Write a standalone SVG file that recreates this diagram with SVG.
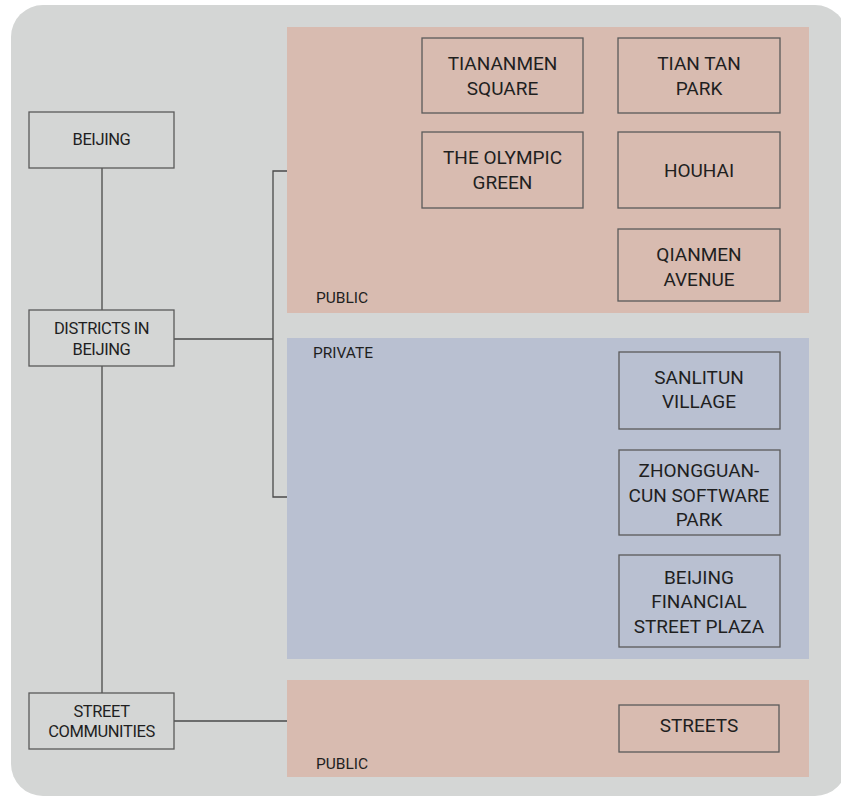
<svg xmlns="http://www.w3.org/2000/svg" width="841" height="797" viewBox="0 0 841 797">
<style>
  .bg { fill: #d4d6d5; }
  .pub { fill: #d8bbb0; }
  .priv { fill: #b9c0d1; }
  .box { fill: none; stroke: #5a5a5a; stroke-width: 1.3; }
  .conn { fill: none; stroke: #4a4a4a; stroke-width: 1.3; }
  text { font-family: Roboto, "Liberation Sans", sans-serif; fill: #1f1f1f; }
  .l { font-size: 16.5px; letter-spacing: -0.4px; text-anchor: middle; dominant-baseline: central; }
  .r { font-size: 19px; text-anchor: middle; dominant-baseline: central; }
  .lab { font-size: 15.5px; }
</style>
<rect class="bg" x="11" y="5" width="836" height="791" rx="32" ry="32"/>
<g id="panel-public-top">
  <rect class="pub" x="287" y="27" width="522" height="286"/>
  <text class="lab" x="316" y="303">PUBLIC</text>
</g>
<g id="panel-private">
  <rect class="priv" x="287" y="338" width="522" height="321"/>
  <text class="lab" x="313" y="358">PRIVATE</text>
</g>
<g id="panel-public-bottom">
  <rect class="pub" x="287" y="680" width="522" height="97"/>
  <text class="lab" x="316" y="769">PUBLIC</text>
</g>
<g id="connectors">
  <line class="conn" x1="102" y1="168" x2="102" y2="310"/>
  <line class="conn" x1="102" y1="366" x2="102" y2="693"/>
  <line class="conn" x1="174" y1="339" x2="273" y2="339"/>
  <polyline class="conn" points="287,171 273,171 273,497 287,497"/>
  <line class="conn" x1="174" y1="721" x2="287" y2="721"/>
</g>
<g id="beijing">
  <rect class="box" x="29" y="112" width="145" height="56"/>
  <text class="l" x="101.5" y="139">BEIJING</text>
</g>
<g id="districts">
  <rect class="box" x="29" y="310" width="145" height="56"/>
  <text class="l" x="101.5" y="328">DISTRICTS IN</text>
  <text class="l" x="101.5" y="349">BEIJING</text>
</g>
<g id="street-communities">
  <rect class="box" x="29" y="693" width="145" height="56"/>
  <text class="l" x="101.5" y="711">STREET</text>
  <text class="l" x="101.5" y="731">COMMUNITIES</text>
</g>
<g id="tiananmen">
  <rect class="box" x="422" y="38" width="161" height="75"/>
  <text class="r" x="502.5" y="63">TIANANMEN</text>
  <text class="r" x="502.5" y="88">SQUARE</text>
</g>
<g id="tiantan">
  <rect class="box" x="618" y="38" width="162" height="75"/>
  <text class="r" x="699" y="63">TIAN TAN</text>
  <text class="r" x="699" y="88">PARK</text>
</g>
<g id="olympic">
  <rect class="box" x="422" y="132" width="161" height="76"/>
  <text class="r" x="502.5" y="157.5">THE OLYMPIC</text>
  <text class="r" x="502.5" y="182.5">GREEN</text>
</g>
<g id="houhai">
  <rect class="box" x="618" y="132" width="162" height="76"/>
  <text class="r" x="699" y="170">HOUHAI</text>
</g>
<g id="qianmen">
  <rect class="box" x="618" y="229" width="162" height="72"/>
  <text class="r" x="699" y="254">QIANMEN</text>
  <text class="r" x="699" y="279">AVENUE</text>
</g>
<g id="sanlitun">
  <rect class="box" x="619" y="352" width="161" height="77"/>
  <text class="r" x="699" y="377.5">SANLITUN</text>
  <text class="r" x="699" y="401.5">VILLAGE</text>
</g>
<g id="zhongguancun">
  <rect class="box" x="619" y="450" width="161" height="85"/>
  <text class="r" x="699" y="470.5">ZHONGGUAN-</text>
  <text class="r" x="699" y="495">CUN SOFTWARE</text>
  <text class="r" x="699" y="519.5">PARK</text>
</g>
<g id="financial">
  <rect class="box" x="619" y="555" width="161" height="92"/>
  <text class="r" x="699" y="577.5">BEIJING</text>
  <text class="r" x="699" y="601.5">FINANCIAL</text>
  <text class="r" x="699" y="626">STREET PLAZA</text>
</g>
<g id="streets">
  <rect class="box" x="619" y="705" width="160" height="47"/>
  <text class="r" x="699" y="725">STREETS</text>
</g>
</svg>
